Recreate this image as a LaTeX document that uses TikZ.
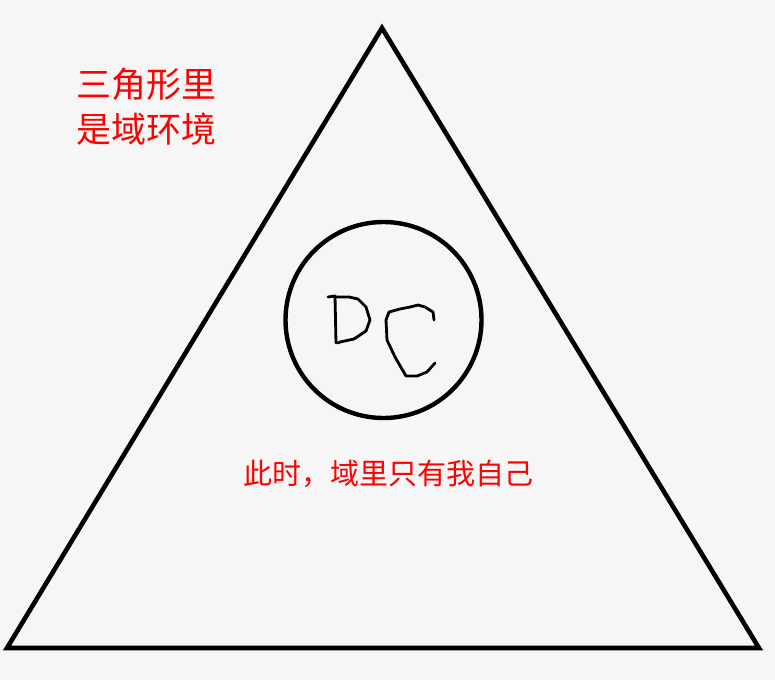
\documentclass[tikz,border=0pt]{standalone}
\usepackage{fontspec}
\setmainfont{Noto Sans CJK SC}
\usetikzlibrary{positioning, calc}
\definecolor{pageBg}{HTML}{F6F6F6}
\definecolor{noteRed}{HTML}{FF0000}
\definecolor{penBlack}{HTML}{000000}

\begin{document}
\begin{tikzpicture}[x=1pt, y=-1pt]
            \fill[pageBg] (0,0) rectangle (775,680);
            \useasboundingbox (0,0) rectangle (775,680);
            \coordinate (top) at (382,28);
            \coordinate (left) at (7,648);
            \coordinate (right) at (759,648);
            \draw[penBlack, line width=4.6pt, line join=miter] (top) -- (right) -- (left) -- cycle;
            \node[circle, draw=penBlack, line width=4.4pt, minimum size=196pt, inner sep=0pt] (dc) at (383.5,320) {};
            % handwritten DC
            \draw[penBlack, line width=2.8pt, line cap=round, line join=round] (328,297) -- (335,296) -- (336,343);
            \draw[penBlack, line width=2.8pt, line cap=round, line join=round] (335,297) -- (349,297) -- (358,299) -- (366,307) -- (370,320) -- (366,331) -- (354,339) -- (340,342) -- (338,343);
            \draw[penBlack, line width=2.8pt, line cap=round, line join=round] (434,320) -- (433,312) -- (425,307) -- (418,305) -- (410,307) -- (400,309) -- (389,312) -- (386,320) -- (387,340) -- (395,357) -- (406,376) -- (417,376) -- (427,372) -- (435,363);
            \node[text=noteRed, font=\fontsize{35}{45}\selectfont, align=left, inner sep=0pt] (domain) at (146,107) {三角形里\\是域环境};
            \node[text=noteRed, font=\fontsize{29}{35}\selectfont, inner sep=0pt] (alone) at (388,473.5) {此时，域里只有我自己};
        \end{tikzpicture}
\end{document}
